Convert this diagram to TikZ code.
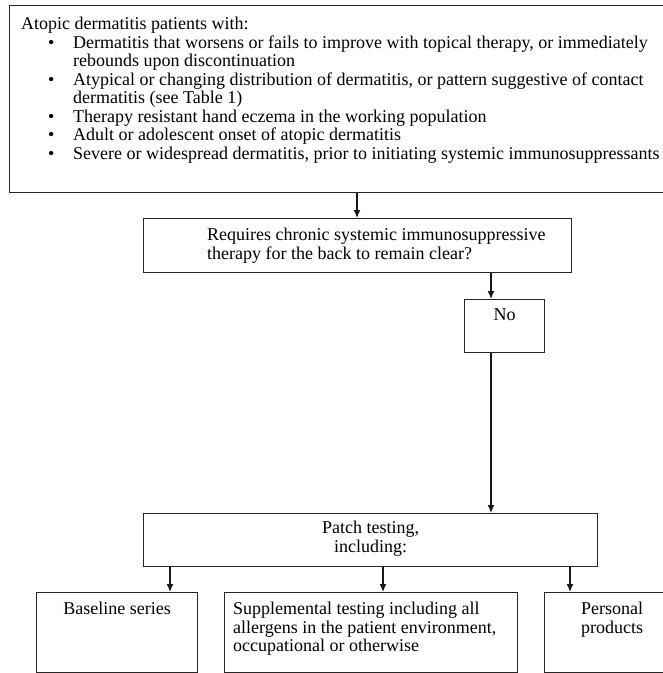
\documentclass[tikz,border=0pt]{standalone}
\usepackage{fontspec}
\setmainfont{Liberation Serif}
\usepackage{tikz}
\usetikzlibrary{arrows.meta,positioning}
\tikzstyle{box}=[draw=black!85,line width=1.3pt,rectangle,inner sep=0pt,anchor=north west]
\tikzstyle{txt}=[inner sep=0pt,align=left,font=\fontsize{18}{18.5}\selectfont]
\tikzstyle{arr}=[draw=black!90,line width=1.3pt,-{Latex[length=8pt,width=7pt]}]
\newcommand{\bulletitem}{\hspace*{27pt}\makebox[25pt][l]{\textbullet}}
\newcommand{\contline}{\hspace*{52pt}}

\begin{document}
\begin{tikzpicture}[x=1pt,y=-1pt]
    \path[use as bounding box,fill=white] (0,0) rectangle (663,673);
    % First we draw the boxes
    \node[box,minimum width=660pt,minimum height=187pt] (crit) at (9,5) {};
    \node[box,minimum width=428pt,minimum height=54pt] (ask) at (143,218) {};
    \node[box,minimum width=80pt,minimum height=53pt] (no) at (464,299) {};
    \node[box,minimum width=454pt,minimum height=53pt] (patch) at (143,513) {};
    \node[box,minimum width=161pt,minimum height=80pt] (base) at (36,592) {};
    \node[box,minimum width=293pt,minimum height=80pt] (supp) at (224,592) {};
    \node[box,minimum width=125pt,minimum height=80pt] (pers) at (544,592) {};
    % Then the texts inside them
    \node[txt,anchor=north west] (critxt) at ([xshift=12pt,yshift=-12pt]crit.north west)
        {Atopic dermatitis patients with:\\
         \bulletitem Dermatitis that worsens or fails to improve with topical therapy, or immediately\\
         \contline rebounds upon discontinuation\\
         \bulletitem Atypical or changing distribution of dermatitis, or pattern suggestive of contact\\
         \contline dermatitis (see Table 1)\\
         \bulletitem Therapy resistant hand eczema in the working population\\
         \bulletitem Adult or adolescent onset of atopic dermatitis\\
         \bulletitem Severe or widespread dermatitis, prior to initiating systemic immunosuppressants};
    \node[txt,anchor=north west] (asktxt) at ([xshift=64pt,yshift=-10pt]ask.north west)
        {Requires chronic systemic immunosuppressive\\therapy for the back to remain clear?};
    \node[txt,below=10pt of no.north] (notxt) {No};
    \node[txt,align=center,below=8pt of patch.north] (patchtxt) {Patch testing,\\including:};
    \node[txt,below=10pt of base.north] (basetxt) {Baseline series};
    \node[txt,anchor=north west] (supptxt) at ([xshift=9pt,yshift=-10pt]supp.north west)
        {Supplemental testing including all\\allergens in the patient environment,\\occupational or otherwise};
    \node[txt,anchor=north west] (perstxt) at ([xshift=37pt,yshift=-10pt]pers.north west)
        {Personal\\products};
    % Connect boxes with arrows
    \path[arr] ([xshift=348pt]crit.south west) -- ([xshift=214pt]ask.north west);
    \path[arr] ([xshift=348pt]ask.south west) -- ([xshift=27pt]no.north west);
    \path[arr] ([xshift=27pt]no.south west) -- ([xshift=348pt]patch.north west);
    \path[arr] ([xshift=27pt]patch.south west) -- ([xshift=134pt]base.north west);
    \path[arr] ([xshift=240pt]patch.south west) -- ([xshift=159pt]supp.north west);
    \path[arr] ([xshift=427pt]patch.south west) -- ([xshift=26pt]pers.north west);
\end{tikzpicture}
\end{document}
